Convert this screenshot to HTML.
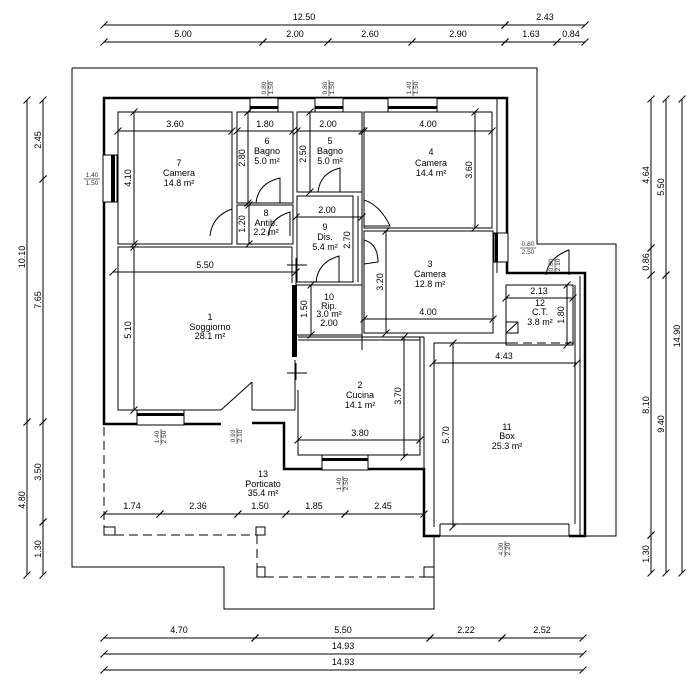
<!DOCTYPE html>
<html><head><meta charset="utf-8"><style>
body{margin:0;background:#fff}
svg{display:block}
text{font-family:"Liberation Sans",sans-serif;font-size:9px;fill:#000}
.s{font-size:6.5px;fill:#333}
.l{fill:none;stroke:#000;stroke-width:1}
.w{fill:none;stroke:#000;stroke-width:2.5}
.d{fill:none;stroke:#000;stroke-width:1;marker-start:url(#t);marker-end:url(#t)}
.ds{fill:none;stroke:#000;stroke-width:1;stroke-dasharray:9 5}
</style></head><body>
<svg width="697" height="692" viewBox="0 0 697 692" xmlns="http://www.w3.org/2000/svg">
<defs><marker id="t" markerWidth="10" markerHeight="10" refX="5" refY="5" orient="0" markerUnits="userSpaceOnUse"><path d="M1.5 8.5 L8.5 1.5" stroke="#000" stroke-width="1"/></marker></defs>

<!-- site boundary -->
<polyline class="l" points="72,68 537,68 537,244 616,244 616,536 434,536 434,609 224,609 224,567 72,567 72,68"/>

<!-- top dims -->
<line class="d" x1="104" y1="25" x2="505" y2="25"/><line class="d" x1="505" y1="25" x2="585" y2="25"/>
<text x="304" y="20" text-anchor="middle">12.50</text><text x="545" y="20" text-anchor="middle">2.43</text>
<line class="d" x1="104" y1="42" x2="263" y2="42"/><line class="d" x1="263" y1="42" x2="328" y2="42"/><line class="d" x1="328" y1="42" x2="412" y2="42"/><line class="d" x1="412" y1="42" x2="505" y2="42"/><line class="d" x1="505" y1="42" x2="557" y2="42"/><line class="d" x1="557" y1="42" x2="585" y2="42"/>
<text x="183" y="37" text-anchor="middle">5.00</text><text x="295" y="37" text-anchor="middle">2.00</text><text x="370" y="37" text-anchor="middle">2.60</text><text x="458" y="37" text-anchor="middle">2.90</text><text x="531" y="37" text-anchor="middle">1.63</text><text x="571" y="37" text-anchor="middle">0.84</text>

<!-- bottom dims -->
<line class="d" x1="104" y1="638" x2="255" y2="638"/><line class="d" x1="255" y1="638" x2="430" y2="638"/><line class="d" x1="430" y1="638" x2="502" y2="638"/><line class="d" x1="502" y1="638" x2="583" y2="638"/>
<text x="179" y="633" text-anchor="middle">4.70</text><text x="343" y="633" text-anchor="middle">5.50</text><text x="466" y="633" text-anchor="middle">2.22</text><text x="542" y="633" text-anchor="middle">2.52</text>
<line class="d" x1="104" y1="654" x2="583" y2="654"/><text x="343" y="649" text-anchor="middle">14.93</text>
<line class="d" x1="104" y1="670" x2="583" y2="670"/><text x="343" y="665" text-anchor="middle">14.93</text>

<!-- left dims -->
<line class="d" x1="27" y1="100" x2="27" y2="422"/><line class="d" x1="27" y1="422" x2="27" y2="575"/>
<line class="d" x1="43" y1="100" x2="43" y2="179"/><line class="d" x1="43" y1="179" x2="43" y2="422"/><line class="d" x1="43" y1="422" x2="43" y2="522"/><line class="d" x1="43" y1="522" x2="43" y2="575"/>
<text transform="translate(25,257) rotate(-90)" text-anchor="middle">10.10</text>
<text transform="translate(25,500) rotate(-90)" text-anchor="middle">4.80</text>
<text transform="translate(41,140) rotate(-90)" text-anchor="middle">2.45</text>
<text transform="translate(41,300) rotate(-90)" text-anchor="middle">7.65</text>
<text transform="translate(41,472) rotate(-90)" text-anchor="middle">3.50</text>
<text transform="translate(41,549) rotate(-90)" text-anchor="middle">1.30</text>

<!-- right dims -->
<line class="d" x1="651" y1="99" x2="651" y2="248"/><line class="d" x1="651" y1="248" x2="651" y2="275"/><line class="d" x1="651" y1="275" x2="651" y2="535"/><line class="d" x1="651" y1="535" x2="651" y2="573"/>
<line class="d" x1="666" y1="99" x2="666" y2="275"/><line class="d" x1="666" y1="275" x2="666" y2="573"/>
<line class="d" x1="682" y1="99" x2="682" y2="573"/>
<text transform="translate(649,175) rotate(-90)" text-anchor="middle">4.64</text>
<text transform="translate(649,262) rotate(-90)" text-anchor="middle">0.86</text>
<text transform="translate(649,405) rotate(-90)" text-anchor="middle">8.10</text>
<text transform="translate(649,554) rotate(-90)" text-anchor="middle">1.30</text>
<text transform="translate(664,187) rotate(-90)" text-anchor="middle">5.50</text>
<text transform="translate(664,424) rotate(-90)" text-anchor="middle">9.40</text>
<text transform="translate(680,336) rotate(-90)" text-anchor="middle">14.90</text>

<!-- exterior walls -->
<polyline class="w" points="221,424 104,424 104,98 507,98 507,273 585,273 585,536 569,536"/>
<polyline class="w" points="440,536 424,536 424,469 284,469 284,423 252,423"/>
<line class="l" x1="440" y1="524" x2="440" y2="536"/><line class="l" x1="569" y1="524" x2="569" y2="536"/>
<line class="l" x1="440" y1="524" x2="569" y2="524"/>
<!-- windows top -->
<rect x="250" y="98" width="28" height="14" fill="#fff" stroke="#000"/><rect x="250" y="106" width="28" height="3" fill="#000"/>
<rect x="315" y="98" width="28" height="14" fill="#fff" stroke="#000"/><rect x="315" y="106" width="28" height="3" fill="#000"/>
<rect x="388" y="98" width="49" height="14" fill="#fff" stroke="#000"/><rect x="388" y="106" width="49" height="3" fill="#000"/>
<!-- left window -->
<rect x="103" y="155" width="14" height="47" fill="#fff" stroke="#000"/><rect x="111" y="155" width="4" height="47" fill="#000"/>
<!-- right window room3 -->
<rect x="494" y="233" width="14" height="29" fill="#fff" stroke="#000"/><rect x="495" y="233" width="3" height="29" fill="#000"/>
<!-- soggiorno bottom window -->
<rect x="137" y="410" width="47" height="15" fill="#fff" stroke="#000"/><rect x="137" y="413" width="47" height="3" fill="#000"/>
<!-- kitchen window -->
<rect x="322" y="455" width="46" height="15" fill="#fff" stroke="#000"/><rect x="322" y="458" width="46" height="3" fill="#000"/>

<!-- rooms -->
<rect class="l" x="118" y="112" width="114" height="132"/>
<rect class="l" x="237" y="112" width="56" height="91"/>
<rect class="l" x="237" y="205" width="56" height="39"/>
<rect class="l" x="297" y="112" width="65" height="80"/>
<rect class="l" x="297" y="196" width="56" height="86"/>
<rect class="l" x="296" y="285" width="66" height="50"/>
<rect class="l" x="364" y="112" width="128" height="116"/>
<rect class="l" x="364" y="231" width="129" height="102"/>
<rect class="l" x="506" y="285" width="67" height="60"/>
<polyline class="l" points="292,247 118,247 118,410 184,410"/><polyline class="l" points="221,410 184,410"/>
<polyline class="l" points="298,337 420,337 420,455 368,455"/><polyline class="l" points="322,455 298,455 298,390"/>
<line class="l" x1="292" y1="247" x2="292" y2="283"/><line class="l" x1="295" y1="360" x2="295" y2="410"/>
<line class="l" x1="252" y1="410" x2="295" y2="410"/><line class="l" x1="252" y1="410" x2="252" y2="382"/>
<line class="l" x1="221" y1="410" x2="252" y2="382"/>
<rect x="292" y="285" width="5" height="72" fill="#000"/>
<line class="l" x1="362" y1="335" x2="362" y2="345"/><line class="l" x1="298" y1="340" x2="420" y2="340"/>
<line class="l" x1="420" y1="337" x2="424" y2="337"/><line class="l" x1="424" y1="337" x2="424" y2="469"/>
<line class="l" x1="358" y1="196" x2="358" y2="282"/><line class="l" x1="362" y1="192" x2="362" y2="350"/>
<line class="l" x1="497" y1="98" x2="497" y2="273"/>
<!-- box -->
<polyline class="l" points="509,343 434,343 434,527"/>
<line class="ds" x1="509" y1="343" x2="575" y2="343"/>
<line class="l" x1="575" y1="285" x2="575" y2="524"/><line class="l" x1="580" y1="276" x2="580" y2="536"/>
<line class="l" x1="506" y1="285" x2="506" y2="345"/>
<rect class="l" x="506" y="322" width="12" height="11"/><line class="l" x1="506" y1="333" x2="518" y2="322"/>

<!-- doors -->
<path class="l" d="M210 236 Q212 216 232 209 L232 236"/>
<path class="l" d="M256 203 Q258 183 280 178 L280 203"/>
<path class="l" d="M318 192 Q320 173 340 168 L340 192"/>
<path class="l" d="M268 236 Q270 218 290 212 L290 236"/>
<path class="l" d="M316 282 Q318 262 339 256 L339 282"/>
<path class="l" d="M364 200 Q380 205 390 226 L364 226"/>
<path class="l" d="M364 240 Q378 244 378 262 L364 264"/>
<path class="l" d="M546 275 Q548 258 569 250 L569 275"/>

<!-- porch -->
<line class="ds" x1="104" y1="427" x2="104" y2="527"/>
<rect class="l" x="104" y="527" width="11" height="8"/><rect class="l" x="256" y="527" width="9" height="8"/>
<line class="ds" x1="115" y1="535" x2="256" y2="535"/>
<line class="ds" x1="257" y1="535" x2="257" y2="567"/>
<rect class="l" x="257" y="567" width="8" height="10"/><rect class="l" x="424" y="567" width="10" height="10"/>
<line class="ds" x1="265" y1="577" x2="424" y2="577"/>
<line class="d" x1="104" y1="514" x2="160" y2="514"/><line class="d" x1="160" y1="514" x2="238" y2="514"/><line class="d" x1="238" y1="514" x2="286" y2="514"/><line class="d" x1="286" y1="514" x2="345" y2="514"/><line class="d" x1="345" y1="514" x2="424" y2="514"/>
<text x="132" y="509" text-anchor="middle">1.74</text><text x="198" y="509" text-anchor="middle">2.36</text><text x="260" y="509" text-anchor="middle">1.50</text><text x="314" y="509" text-anchor="middle">1.85</text><text x="383" y="509" text-anchor="middle">2.45</text>

<!-- inner dims -->
<line class="d" x1="118" y1="131" x2="232" y2="131"/><text x="175" y="127" text-anchor="middle">3.60</text>
<line class="d" x1="134" y1="112" x2="134" y2="244"/><text transform="translate(131,178) rotate(-90)" text-anchor="middle">4.10</text>
<line class="d" x1="237" y1="131" x2="293" y2="131"/><text x="265" y="127" text-anchor="middle">1.80</text>
<line class="d" x1="248" y1="112" x2="248" y2="203"/><text transform="translate(245,158) rotate(-90)" text-anchor="middle">2.80</text>
<line class="d" x1="297" y1="131" x2="362" y2="131"/><text x="328" y="127" text-anchor="middle">2.00</text>
<line class="d" x1="310" y1="112" x2="310" y2="192"/><text transform="translate(306,154) rotate(-90)" text-anchor="middle">2.50</text>
<line class="d" x1="249" y1="205" x2="249" y2="244"/><text transform="translate(245,224) rotate(-90)" text-anchor="middle">1.20</text>
<line class="d" x1="296" y1="217" x2="362" y2="217"/><text x="327" y="213" text-anchor="middle">2.00</text>
<text transform="translate(350,240) rotate(-90)" text-anchor="middle">2.70</text>
<line class="d" x1="113" y1="272" x2="296" y2="272"/><text x="205" y="268" text-anchor="middle">5.50</text>
<line class="l" x1="287" y1="265" x2="307" y2="265"/><line class="l" x1="296" y1="258" x2="296" y2="287"/>
<line class="l" x1="287" y1="373" x2="307" y2="373"/><line class="l" x1="296" y1="363" x2="296" y2="380"/>
<line class="d" x1="134" y1="247" x2="134" y2="410"/><text transform="translate(131,330) rotate(-90)" text-anchor="middle">5.10</text>
<line class="d" x1="311" y1="285" x2="311" y2="335"/><text transform="translate(307,309) rotate(-90)" text-anchor="middle">1.50</text>
<line class="d" x1="364" y1="131" x2="492" y2="131"/><text x="428" y="127" text-anchor="middle">4.00</text>
<line class="d" x1="475" y1="112" x2="475" y2="228"/><text transform="translate(472,170) rotate(-90)" text-anchor="middle">3.60</text>
<line class="d" x1="386" y1="231" x2="386" y2="333"/><text transform="translate(383,282) rotate(-90)" text-anchor="middle">3.20</text>
<line class="d" x1="364" y1="319" x2="493" y2="319"/><text x="428" y="315" text-anchor="middle">4.00</text>
<line class="d" x1="506" y1="298" x2="573" y2="298"/><text x="539" y="294" text-anchor="middle">2.13</text>
<line class="d" x1="567" y1="285" x2="567" y2="345"/><text transform="translate(564,315) rotate(-90)" text-anchor="middle">1.80</text>
<line class="ds" x1="510" y1="345" x2="573" y2="345"/>
<line class="d" x1="433" y1="363" x2="577" y2="363"/><text x="504" y="359" text-anchor="middle">4.43</text>
<line class="d" x1="453" y1="343" x2="453" y2="527"/><text transform="translate(449,435) rotate(-90)" text-anchor="middle">5.70</text>
<line class="d" x1="298" y1="440" x2="420" y2="440"/><text x="360" y="436" text-anchor="middle">3.80</text>
<line class="d" x1="404" y1="337" x2="404" y2="457"/><text transform="translate(401,396) rotate(-90)" text-anchor="middle">3.70</text>

<!-- room labels -->
<g text-anchor="middle">
<text x="179" y="166">7</text><text x="179" y="176">Camera</text><text x="179" y="186">14.8 m²</text>
<text x="267" y="144">6</text><text x="267" y="154">Bagno</text><text x="267" y="164">5.0 m²</text>
<text x="330" y="144">5</text><text x="330" y="154">Bagno</text><text x="330" y="164">5.0 m²</text>
<text x="431" y="155">4</text><text x="431" y="166">Camera</text><text x="431" y="176">14.4 m²</text>
<text x="266" y="216">8</text><text x="266" y="226">Antib.</text><text x="266" y="235">2.2 m²</text>
<text x="325" y="230">9</text><text x="325" y="240">Dis.</text><text x="325" y="250">5.4 m²</text>
<text x="430" y="267">3</text><text x="430" y="277">Camera</text><text x="430" y="287">12.8 m²</text>
<text x="329" y="300">10</text><text x="329" y="309">Rip.</text><text x="329" y="317">3.0 m²</text><text x="329" y="326">2.00</text>
<text x="540" y="306">12</text><text x="540" y="315">C.T.</text><text x="540" y="325">3.8 m²</text>
<text x="210" y="320">1</text><text x="210" y="330">Soggiorno</text><text x="210" y="339">28.1 m²</text>
<text x="360" y="388">2</text><text x="360" y="398">Cucina</text><text x="360" y="408">14.1 m²</text>
<text x="507" y="430">11</text><text x="507" y="439">Box</text><text x="507" y="449">25.3 m²</text>
<text x="263" y="477">13</text><text x="263" y="487">Porticato</text><text x="263" y="496">35.4 m²</text>
</g>

<!-- window labels -->
<g class="s" text-anchor="middle">
<text x="92" y="177" class="s">1.40</text><line x1="84" y1="179" x2="100" y2="179" stroke="#333" stroke-width="0.7"/><text x="92" y="185" class="s">1.50</text>
<text x="528" y="246" class="s">0.80</text><line x1="520" y1="248" x2="536" y2="248" stroke="#333" stroke-width="0.7"/><text x="528" y="254" class="s">2.50</text>
<text transform="translate(266,88) rotate(-90)" class="s">0.80</text><text transform="translate(273,88) rotate(-90)" class="s">1.50</text><line x1="268" y1="80" x2="268" y2="96" stroke="#333" stroke-width="0.7"/>
<text transform="translate(327,88) rotate(-90)" class="s">0.80</text><text transform="translate(334,88) rotate(-90)" class="s">1.50</text><line x1="329" y1="80" x2="329" y2="96" stroke="#333" stroke-width="0.7"/>
<text transform="translate(411,88) rotate(-90)" class="s">1.40</text><text transform="translate(418,88) rotate(-90)" class="s">1.50</text><line x1="413" y1="80" x2="413" y2="96" stroke="#333" stroke-width="0.7"/>
<text transform="translate(553,265) rotate(-90)" class="s">0.80</text><text transform="translate(560,265) rotate(-90)" class="s">2.10</text><line x1="555" y1="257" x2="555" y2="273" stroke="#333" stroke-width="0.7"/>
<text transform="translate(159,437) rotate(-90)" class="s">1.40</text><text transform="translate(166,437) rotate(-90)" class="s">2.50</text><line x1="161" y1="429" x2="161" y2="445" stroke="#333" stroke-width="0.7"/>
<text transform="translate(235,436) rotate(-90)" class="s">0.93</text><text transform="translate(242,436) rotate(-90)" class="s">2.10</text><line x1="237" y1="428" x2="237" y2="444" stroke="#333" stroke-width="0.7"/>
<text transform="translate(341,484) rotate(-90)" class="s">1.40</text><text transform="translate(348,484) rotate(-90)" class="s">2.50</text><line x1="343" y1="476" x2="343" y2="492" stroke="#333" stroke-width="0.7"/>
<text transform="translate(503,549) rotate(-90)" class="s">4.00</text><text transform="translate(510,549) rotate(-90)" class="s">2.20</text><line x1="505" y1="541" x2="505" y2="557" stroke="#333" stroke-width="0.7"/>
</g>
</svg>
</body></html>
